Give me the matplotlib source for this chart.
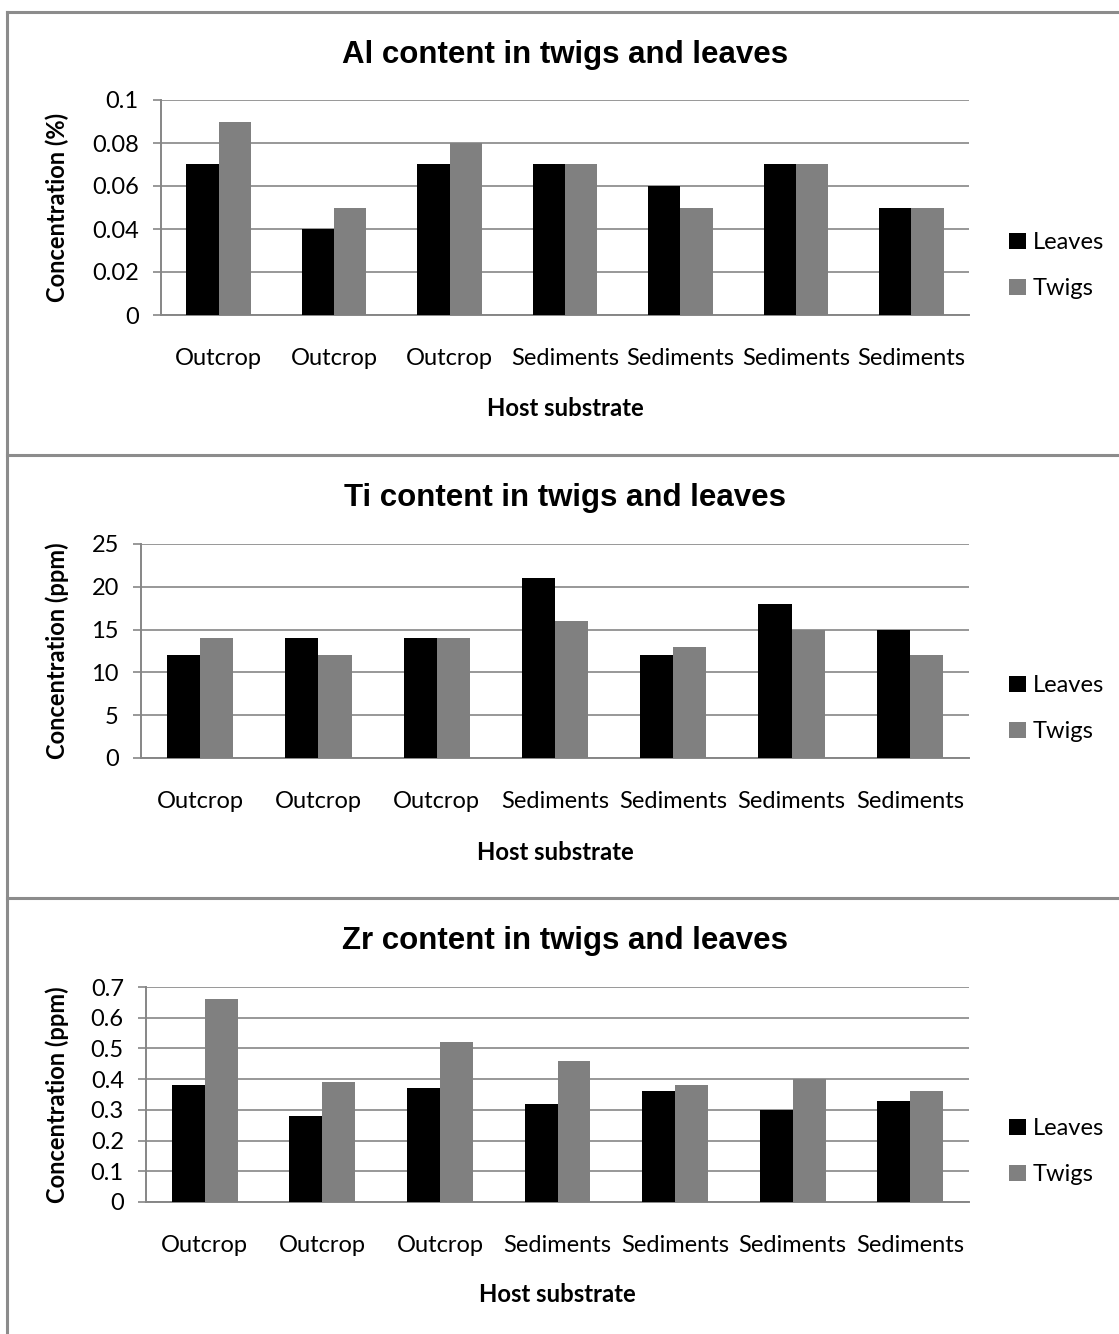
import matplotlib
matplotlib.use("Agg")
import matplotlib.pyplot as plt
from matplotlib.lines import Line2D

# Host substrate of each sample
categories = ["Outcrop", "Outcrop", "Outcrop", "Sediments", "Sediments", "Sediments", "Sediments"]
series_names = ["Leaves", "Twigs"]

al_leaves = [0.07, 0.04, 0.07, 0.07, 0.06, 0.07, 0.05]
al_twigs = [0.09, 0.05, 0.08, 0.07, 0.05, 0.07, 0.05]

ti_leaves = [12, 14, 14, 21, 12, 18, 15]
ti_twigs = [14, 12, 14, 16, 13, 15, 12]

zr_leaves = [0.38, 0.28, 0.37, 0.32, 0.36, 0.30, 0.33]
zr_twigs = [0.66, 0.39, 0.52, 0.46, 0.38, 0.40, 0.36]

al_ticks = [0, 0.02, 0.04, 0.06, 0.08, 0.1]
al_ticklabels = ["0", "0.02", "0.04", "0.06", "0.08", "0.1"]
ti_ticks = [0, 5, 10, 15, 20, 25]
ti_ticklabels = ["0", "5", "10", "15", "20", "25"]
zr_ticks = [0, 0.1, 0.2, 0.3, 0.4, 0.5, 0.6, 0.7]
zr_ticklabels = ["0", "0.1", "0.2", "0.3", "0.4", "0.5", "0.6", "0.7"]

titles = ["Al content in twigs and leaves",
          "Ti content in twigs and leaves",
          "Zr content in twigs and leaves"]
ylabels = ["Concentration (%)", "Concentration (ppm)", "Concentration (ppm)"]
xlabel = "Host substrate"

W, H = 1119, 1334
DPI = 100
fig = plt.figure(figsize=(W / DPI, H / DPI), dpi=DPI)
fig.patch.set_facecolor("white")

BODY = "Lato"
TITLE = "Liberation Sans"
GRID = "#868686"
FRAME = "#8c8c8c"
COLORS = ["#000000", "#808080"]


def fx(px):
    return px / W


def fy(py):
    return 1 - py / H


# panel top edge, plot area (left, right, top, bottom) in pixels
panels = [
    (12, (161, 969, 100, 315)),
    (455, (141, 969, 544, 758)),
    (898, (146, 969, 987, 1202)),
]
datasets = [
    (al_leaves, al_twigs, al_ticks, al_ticklabels),
    (ti_leaves, ti_twigs, ti_ticks, ti_ticklabels),
    (zr_leaves, zr_twigs, zr_ticks, zr_ticklabels),
]

# chart-area frames
for top, _ in panels:
    fig.add_artist(Line2D([fx(7), 1], [fy(top), fy(top)], color=FRAME, lw=2.2,
                          transform=fig.transFigure))
fig.add_artist(Line2D([fx(7), fx(7)], [fy(12), 0], color=FRAME, lw=2.2,
                      transform=fig.transFigure))

bar_w = 0.28
for i, ((top, (l, r, t, b)), (leaves, twigs, ticks, ticklabels)) in enumerate(zip(panels, datasets)):
    ax = fig.add_axes([fx(l), fy(b), fx(r) - fx(l), fy(t) - fy(b)])
    x = list(range(len(categories)))
    h1 = ax.bar([v - bar_w / 2 for v in x], leaves, width=bar_w, color=COLORS[0],
                label=series_names[0], zorder=3)
    h2 = ax.bar([v + bar_w / 2 for v in x], twigs, width=bar_w, color=COLORS[1],
                label=series_names[1], zorder=3)
    ax.set_xlim(-0.5, len(categories) - 0.5)
    ax.set_ylim(ticks[0], ticks[-1])
    ax.set_yticks(ticks)
    ax.set_yticklabels(ticklabels, fontfamily=BODY, fontsize=17)
    ax.set_xticks(x)
    ax.set_xticklabels(categories, fontfamily=BODY, fontsize=17)
    ax.tick_params(axis="x", length=0, pad=23.5)
    ax.tick_params(axis="y", length=6, width=1.2, color=GRID, pad=10)
    ax.grid(axis="y", color=GRID, lw=1.2, zorder=0)
    for s in ["top", "right"]:
        ax.spines[s].set_visible(False)
    for s in ["left", "bottom"]:
        ax.spines[s].set_color(GRID)
        ax.spines[s].set_linewidth(1.4)

    fig.text(fx(565), fy(top + 43), titles[i], ha="center", va="center",
             fontfamily=TITLE, fontweight="bold", fontsize=22.5)
    fig.text(fx(57), fy((t + b) / 2), ylabels[i], ha="center", va="center",
             rotation=90, fontfamily=BODY, fontweight="bold", fontsize=17)
    fig.text(fx((l + r) / 2), fy(top + 397), xlabel, ha="center", va="center",
             fontfamily=BODY, fontweight="bold", fontsize=17.2)

    ax.legend(handles=[h1, h2], loc="upper left",
              bbox_to_anchor=(fx(1000), fy(top + 211)), bbox_transform=fig.transFigure,
              frameon=False, prop={"family": BODY, "size": 17},
              handlelength=0.7, handleheight=0.7, handletextpad=0.3,
              labelspacing=1.05, borderaxespad=0)

fig.savefig("out.png", dpi=DPI, facecolor="white")
